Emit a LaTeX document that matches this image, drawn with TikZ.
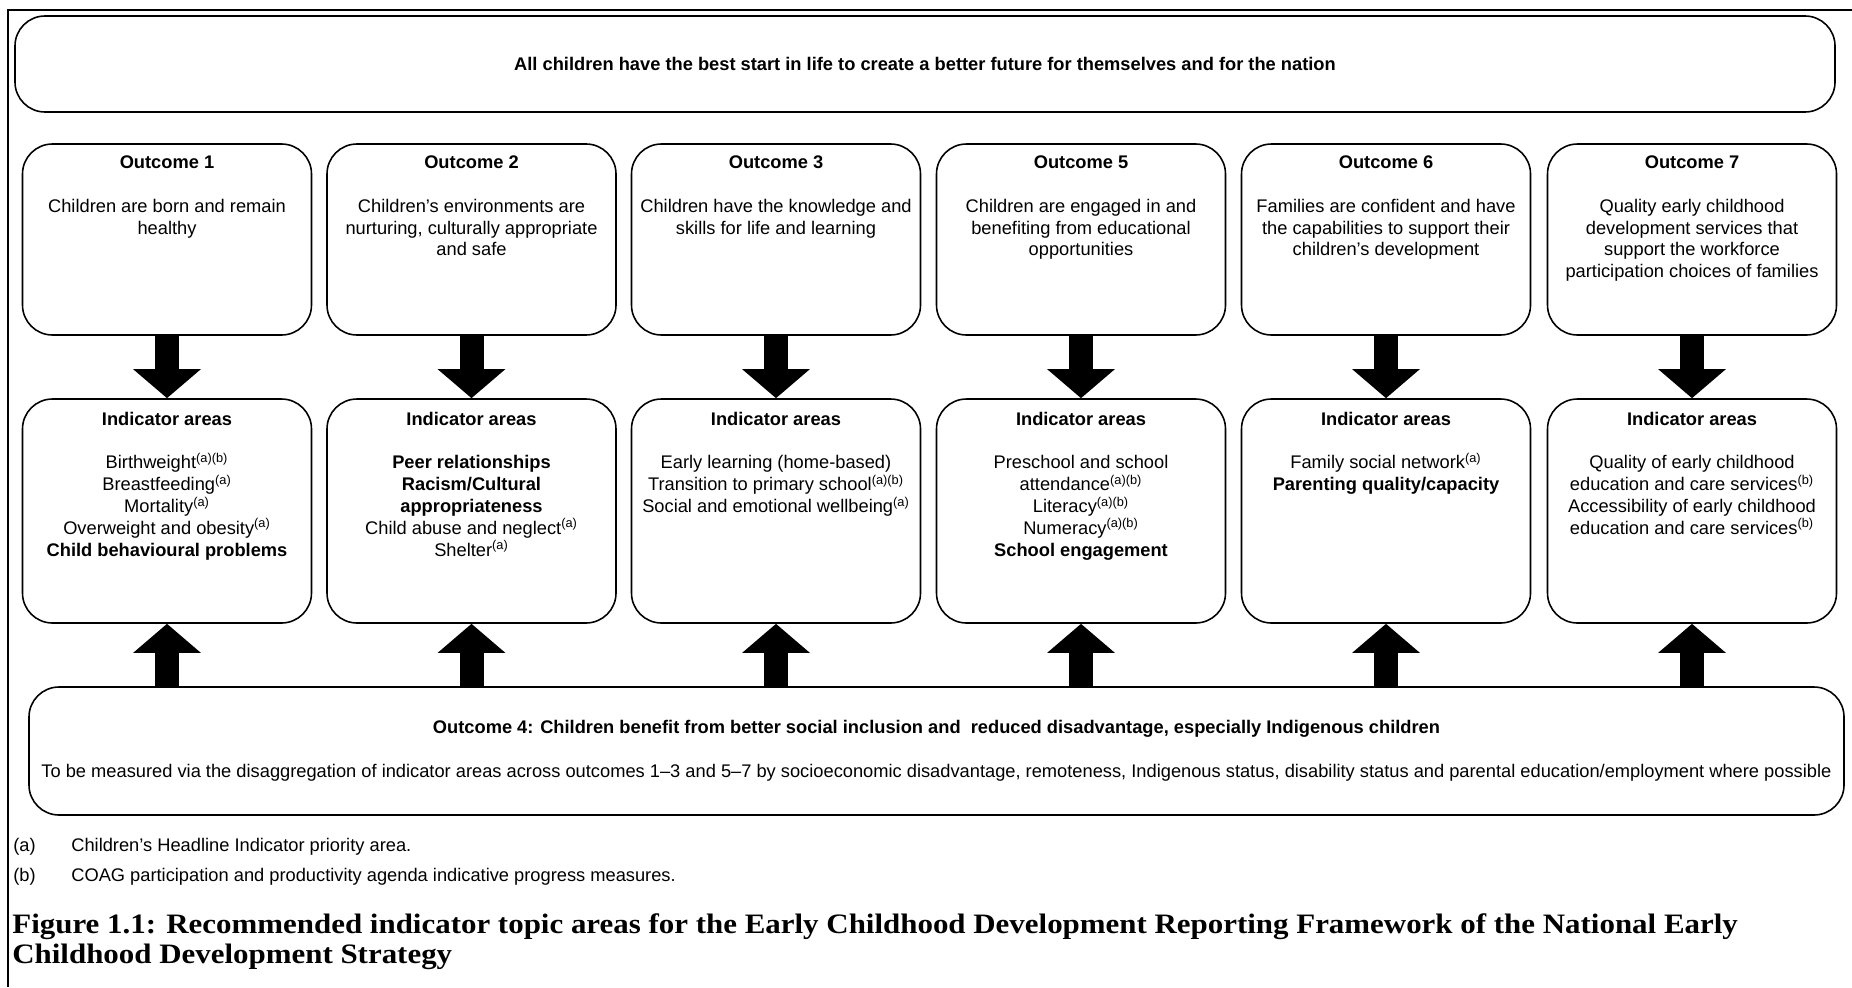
\documentclass[tikz,border=0pt]{standalone}
\usepackage{fontspec}
\setmainfont{Liberation Sans}
\newfontfamily\capfont[FakeStretch=1.1]{Liberation Serif}
\usetikzlibrary{positioning,arrows.meta}
\newcommand{\noteref}[1]{\textsuperscript{#1}}

\begin{document}
\begin{tikzpicture}[
  box/.style={rectangle,draw,line width=0.9pt,rounded corners=0.6cm,
    minimum width=5.78cm,minimum height=3.82cm},
  ibox/.style={box,minimum height=4.48cm},
  txt/.style={align=center,inner sep=0pt,
    font=\fontsize{10.4}{12.4}\selectfont},
  bigarr/.style={line width=0.48cm,-{Triangle[width=1.32cm,length=0.58cm]}}]

  \useasboundingbox (0,0) rectangle (37.04,-19.74);
  \draw[line width=1.2pt] (0.16,-19.74) -- (0.16,-0.2) -- (37.04,-0.2);

  % vision
  \node[box,txt,minimum width=36.4cm,minimum height=1.92cm] (vision) at (18.5,-1.28)
    {\textbf{All children have the best start in life to create a better future for themselves and for the nation}};

  % outcomes
  \node[box] (o1) at (3.34,-4.79) {};
  \node[box] (o2) at (9.43,-4.79) {};
  \node[box] (o3) at (15.52,-4.79) {};
  \node[box] (o5) at (21.62,-4.79) {};
  \node[box] (o6) at (27.72,-4.79) {};
  \node[box] (o7) at (33.84,-4.79) {};

  \node[txt,below=0.25cm of o1.north] (o1t) {\textbf{Outcome 1}\\[\baselineskip]Children are born and remain\\healthy};
  \node[txt,below=0.25cm of o2.north] (o2t) {\textbf{Outcome 2}\\[\baselineskip]Children’s environments are\\nurturing, culturally appropriate\\and safe};
  \node[txt,below=0.25cm of o3.north] (o3t) {\textbf{Outcome 3}\\[\baselineskip]Children have the knowledge and\\skills for life and learning};
  \node[txt,below=0.25cm of o5.north] (o5t) {\textbf{Outcome 5}\\[\baselineskip]Children are engaged in and\\benefiting from educational\\opportunities};
  \node[txt,below=0.25cm of o6.north] (o6t) {\textbf{Outcome 6}\\[\baselineskip]Families are confident and have\\the capabilities to support their\\children’s development};
  \node[txt,below=0.25cm of o7.north] (o7t) {\textbf{Outcome 7}\\[\baselineskip]Quality early childhood\\development services that\\support the workforce\\participation choices of families};

  % indicator areas
  \node[ibox] (i1) at (3.34,-10.22) {};
  \node[ibox] (i2) at (9.43,-10.22) {};
  \node[ibox] (i3) at (15.52,-10.22) {};
  \node[ibox] (i5) at (21.62,-10.22) {};
  \node[ibox] (i6) at (27.72,-10.22) {};
  \node[ibox] (i7) at (33.84,-10.22) {};

  \node[txt,below=0.27cm of i1.north] (i1t) {\textbf{Indicator areas}\\[\baselineskip]Birthweight\noteref{(a)(b)}\\Breastfeeding\noteref{(a)}\\Mortality\noteref{(a)}\\Overweight and obesity\noteref{(a)}\\\textbf{Child behavioural problems}};
  \node[txt,below=0.27cm of i2.north] (i2t) {\textbf{Indicator areas}\\[\baselineskip]\textbf{Peer relationships}\\\textbf{Racism/Cultural}\\\textbf{appropriateness}\\Child abuse and neglect\noteref{(a)}\\Shelter\noteref{(a)}};
  \node[txt,below=0.27cm of i3.north] (i3t) {\textbf{Indicator areas}\\[\baselineskip]Early learning (home-based)\\Transition to primary school\noteref{(a)(b)}\\Social and emotional wellbeing\noteref{(a)}};
  \node[txt,below=0.27cm of i5.north] (i5t) {\textbf{Indicator areas}\\[\baselineskip]Preschool and school\\attendance\noteref{(a)(b)}\\Literacy\noteref{(a)(b)}\\Numeracy\noteref{(a)(b)}\\\textbf{School engagement}};
  \node[txt,below=0.27cm of i6.north] (i6t) {\textbf{Indicator areas}\\[\baselineskip]Family social network\noteref{(a)}\\\textbf{Parenting quality/capacity}};
  \node[txt,below=0.27cm of i7.north] (i7t) {\textbf{Indicator areas}\\[\baselineskip]Quality of early childhood\\education and care services\noteref{(b)}\\Accessibility of early childhood\\education and care services\noteref{(b)}};

  % outcome 4
  \node[box,minimum width=36.3cm,minimum height=2.56cm] (o4) at (18.73,-15.02) {};
  \node[txt] (o4t) at (o4) {\textbf{Outcome 4: Children benefit from better social inclusion and\ \ reduced disadvantage, especially Indigenous children}\\[\baselineskip]To be measured via the disaggregation of indicator areas across outcomes 1–3 and 5–7 by socioeconomic disadvantage, remoteness, Indigenous status, disability status and parental education/employment where possible};

  \draw[bigarr] (o1.south) -- (i1.north);
  \draw[bigarr] (o2.south) -- (i2.north);
  \draw[bigarr] (o3.south) -- (i3.north);
  \draw[bigarr] (o5.south) -- (i5.north);
  \draw[bigarr] (o6.south) -- (i6.north);
  \draw[bigarr] (o7.south) -- (i7.north);

  \draw[bigarr] (i1.south |- o4.north) -- (i1.south);
  \draw[bigarr] (i2.south |- o4.north) -- (i2.south);
  \draw[bigarr] (i3.south |- o4.north) -- (i3.south);
  \draw[bigarr] (i5.south |- o4.north) -- (i5.south);
  \draw[bigarr] (i6.south |- o4.north) -- (i6.south);
  \draw[bigarr] (i7.south |- o4.north) -- (i7.south);

  % notes and caption
  \node[txt,anchor=west] (fa) at (0.26,-16.94) {(a)};
  \node[txt,anchor=west] (fatxt) at (1.42,-16.94) {Children’s Headline Indicator priority area.};
  \node[txt,anchor=west] (fb) at (0.26,-17.54) {(b)};
  \node[txt,anchor=west] (fbtxt) at (1.42,-17.54) {COAG participation and productivity agenda indicative progress measures.};

  \node[anchor=north west,align=left,inner sep=0pt,
    font=\capfont\bfseries\fontsize{16}{17}\selectfont] (caption) at (0.24,-18.26)
    {Figure 1.1: Recommended indicator topic areas for the Early Childhood Development Reporting Framework of the National Early\\Childhood Development Strategy};
\end{tikzpicture}
\end{document}
